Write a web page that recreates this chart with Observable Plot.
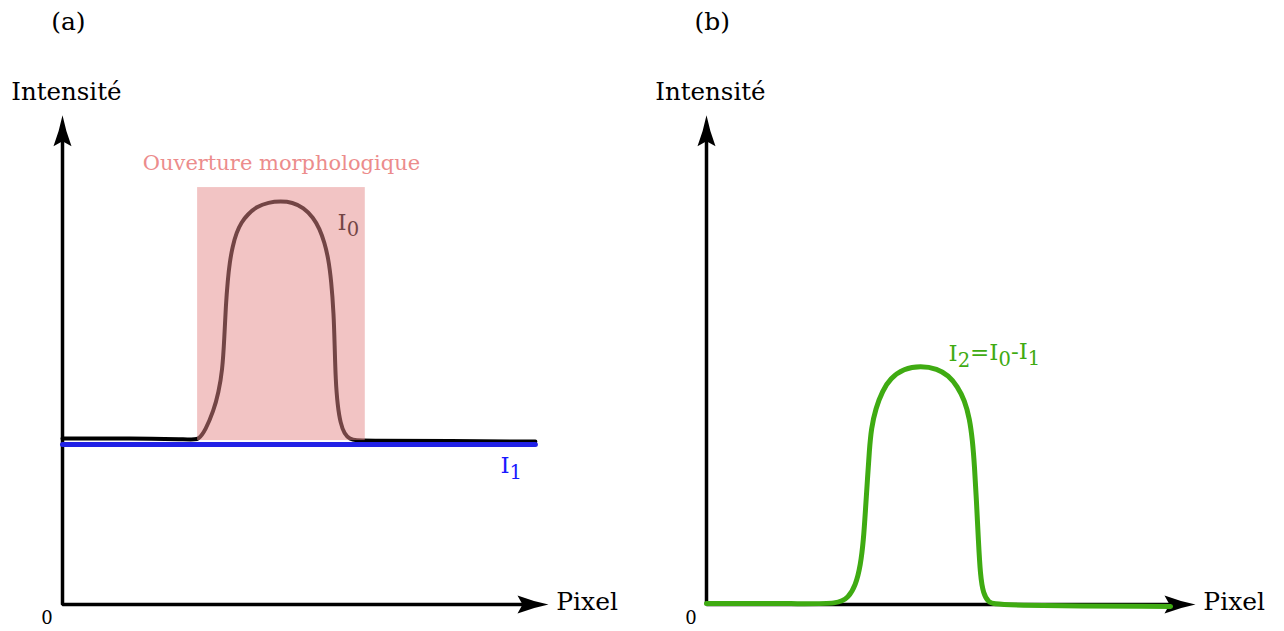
<!DOCTYPE html>
<html><head><meta charset="utf-8">
<script src="https://cdn.jsdelivr.net/npm/d3@7"></script>
<script src="https://cdn.jsdelivr.net/npm/@observablehq/plot@0.6"></script>
<style>
body{margin:0;background:#fff;}
#wrap{display:flex;width:1284px;height:631px;overflow:hidden;}
</style></head><body><div id="wrap"></div>
<script>
// ---- data (schematic intensity profiles) ----
const I0_x = [0, 14.0, 26.7, 28.0, 29.4, 31.1, 32.1, 32.9, 33.3, 33.6, 34.0, 34.4, 35.0, 35.8, 36.8, 38.1, 39.9, 42.4, 44.9, 47.3, 49.6, 51.6, 52.9, 53.9, 54.7, 55.3, 55.8, 56.0, 56.2, 56.6, 57.2, 58.0, 59.1, 60.5, 62.3, 79.8, 97.3];
const I0_y = [33.9, 34.0, 33.7, 33.7, 35.6, 39.6, 43.3, 47.8, 54.4, 61.1, 66.2, 69.9, 73.2, 76.0, 78.1, 79.7, 81.3, 82.2, 82.4, 82.2, 81.1, 79.1, 76.8, 74.0, 70.7, 66.2, 59.5, 52.9, 45.8, 40.7, 37.0, 34.9, 33.8, 33.5, 33.5, 33.4, 33.3];
const I1_x = [0, 97.3];
const I1_y = [32.7, 32.7];
const openingX = [27.8, 62.3];
const openingY = [33.5, 85.2];
const I2_x = [0, 19.2, 27.0, 29.0, 30.5, 31.5, 32.1, 32.5, 32.9, 33.3, 33.7, 34.6, 36.0, 37.6, 40.3, 43.8, 47.2, 49.5, 51.3, 52.8, 53.8, 54.4, 54.8, 55.2, 55.6, 56.0, 56.6, 57.7, 59.1, 94.9];
const I2_y = [0.2, 0.2, 0.1, 1.4, 3.9, 8.0, 13.1, 19.2, 25.3, 31.5, 36.0, 40.1, 43.7, 46.2, 48.2, 48.8, 48.2, 46.8, 44.6, 41.7, 38.0, 33.5, 28.4, 21.3, 13.1, 5.9, 2.2, 0.4, -0.2, -0.4];
const axisX = [0, 0, 95];
const axisY = [95, 0, 0];
const arrowUpTip = [{x: 0, y: 100}];
const arrowRightTip = [{x: 100, y: 0}];
const panelLabels = ["(a)", "(b)"];
const yLabel = "Intensité";
const xLabel = "Pixel";
const originLabel = "0";
const openingLabel = "Ouverture morphologique";
const labelI0 = "I_0";
const labelI1 = "I_1";
const labelI2 = "I_2=I_0-I_1";

const FONT = "DejaVu Serif, serif";
const pts = (xs, ys) => xs.map((x, i) => ({x, y: ys[i]}));

// stealth-like filled arrowheads (tip at the origin)
const arrowUp = {draw(c) {
  c.moveTo(0, 0); c.quadraticCurveTo(3, 15, 9, 31); c.lineTo(0, 26); c.lineTo(-9, 31); c.quadraticCurveTo(-3, 15, 0, 0); c.closePath();
}};
const arrowRight = {draw(c) {
  c.moveTo(0, 0); c.quadraticCurveTo(-15, 3, -31, 9); c.lineTo(-26, 0); c.lineTo(-31, -9); c.quadraticCurveTo(-15, -3, 0, 0); c.closePath();
}};

function axesMarks() {
  return [
    Plot.line(pts(axisX, axisY), {x: "x", y: "y", stroke: "black", strokeWidth: 3.5, strokeLinejoin: "miter", strokeLinecap: "butt"}),
    Plot.dot(arrowUpTip, {x: "x", y: "y", symbol: arrowUp, r: 5, fill: "black", stroke: "none"}),
    Plot.dot(arrowRightTip, {x: "x", y: "y", symbol: arrowRight, r: 5, fill: "black", stroke: "none"}),
  ];
}

function commonText(label) {
  return [
    Plot.text([label], {x: 1.2, y: 119, text: d => d, fontFamily: FONT, fontSize: 25, fill: "black"}),
    Plot.text([yLabel], {x: 0.8, y: 104.6, text: d => d, fontFamily: FONT, fontSize: 24.5, fill: "black"}),
    Plot.text([xLabel], {x: 101.6, y: 0.6, text: d => d, textAnchor: "start", fontFamily: FONT, fontSize: 25, fill: "black"}),
    Plot.text([originLabel], {x: -3.2, y: -2.9, text: d => d, fontFamily: FONT, fontSize: 18, fill: "black"}),
  ];
}

function subscripts(svg) {
  d3.select(svg).selectAll("text").each(function() {
    const t = this.textContent;
    if (!t.includes("_")) return;
    const parts = t.split(/_(\d)/);
    const el = d3.select(this);
    el.text(null);
    parts.forEach((p, i) => {
      if (p === "") return;
      if (i % 2 === 1) el.append("tspan").attr("font-size", "85%").attr("dy", "0.3em").text(p);
      else el.append("tspan").attr("dy", i === 0 ? null : "-0.3em").text(p);
    });
  });
  return svg;
}

const a = Plot.plot({
  width: 642, height: 631,
  marginLeft: 62, marginRight: 94, marginTop: 7, marginBottom: 27,
  x: {domain: [0, 100], axis: null},
  y: {domain: [0, 122], axis: null},
  marks: [
    ...axesMarks(),
    Plot.line(pts(I0_x, I0_y), {x: "x", y: "y", stroke: "black", strokeWidth: 4, curve: "basis"}),
    Plot.text([labelI0], {x: 56.6, y: 78, text: d => d, textAnchor: "start", fontFamily: FONT, fontSize: 23, fill: "black"}),
    Plot.rect([0], {x1: openingX[0], x2: openingX[1], y1: openingY[0], y2: openingY[1], fill: "#e58a8a", fillOpacity: 0.5}),
    Plot.line(pts(I1_x, I1_y), {x: "x", y: "y", stroke: "#2121e6", strokeWidth: 5}),
    Plot.text([openingLabel], {x: (openingX[0] + openingX[1]) / 2, y: 90.1, text: d => d, fontFamily: FONT, fontSize: 21, fill: "#ec8c8c"}),
    Plot.text([labelI1], {x: 90.1, y: 28.3, text: d => d, textAnchor: "start", fontFamily: FONT, fontSize: 23, fill: "#1a1aff"}),
    ...commonText(panelLabels[0]),
  ]
});

const b = Plot.plot({
  width: 642, height: 631,
  marginLeft: 64, marginRight: 89, marginTop: 7, marginBottom: 27,
  x: {domain: [0, 100], axis: null},
  y: {domain: [0, 122], axis: null},
  marks: [
    ...axesMarks(),
    Plot.line(pts(I2_x, I2_y), {x: "x", y: "y", stroke: "#3fab12", strokeWidth: 5, curve: "basis"}),
    Plot.text([labelI2], {x: 49.5, y: 51.2, text: d => d, textAnchor: "start", fontFamily: FONT, fontSize: 23, fill: "#3fab12"}),
    ...commonText(panelLabels[1]),
  ]
});

document.getElementById("wrap").append(subscripts(a), subscripts(b));
</script></body></html>
